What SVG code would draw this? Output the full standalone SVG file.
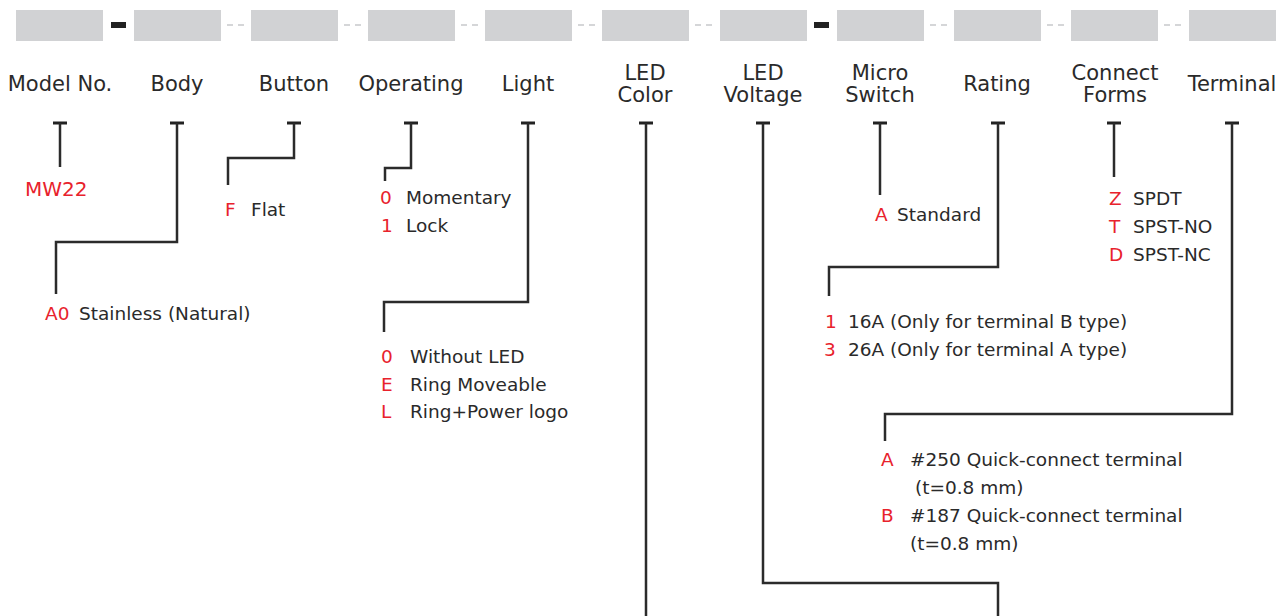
<svg xmlns="http://www.w3.org/2000/svg" width="1282" height="616" viewBox="0 0 1282 616">
<style>
.box{fill:#d1d2d4}
.sep{stroke:#c8c9cb;stroke-width:1.5;stroke-dasharray:6 5}
.dash{fill:#222}
.lbl{font-family:"DejaVu Sans","Liberation Sans",sans-serif;font-size:21px;fill:#2a2a2a;text-anchor:middle}
.it{font-family:"DejaVu Sans","Liberation Sans",sans-serif;font-size:18.5px;fill:#2a2a2a}
.code{font-family:"DejaVu Sans","Liberation Sans",sans-serif;font-size:18.5px;fill:#e8222c}
.wire{fill:none;stroke:#2b2b2b;stroke-width:2.5}
.cap{fill:#222}
</style>
<g id="header">
<rect class="box" x="16" y="10" width="87" height="31"/>
<rect class="box" x="134" y="10" width="87" height="31"/>
<rect class="box" x="251" y="10" width="87" height="31"/>
<rect class="box" x="368" y="10" width="87" height="31"/>
<rect class="box" x="485" y="10" width="87" height="31"/>
<rect class="box" x="602" y="10" width="87" height="31"/>
<rect class="box" x="720" y="10" width="87" height="31"/>
<rect class="box" x="837" y="10" width="87" height="31"/>
<rect class="box" x="954" y="10" width="87" height="31"/>
<rect class="box" x="1071" y="10" width="87" height="31"/>
<rect class="box" x="1189" y="10" width="87" height="31"/>
<rect class="dash" x="111" y="22" width="15" height="6"/>
<rect class="dash" x="814" y="22" width="15" height="6"/>
<line class="sep" x1="227" y1="25" x2="244" y2="25"/>
<line class="sep" x1="344" y1="25" x2="361" y2="25"/>
<line class="sep" x1="461" y1="25" x2="478" y2="25"/>
<line class="sep" x1="578" y1="25" x2="595" y2="25"/>
<line class="sep" x1="695" y1="25" x2="712" y2="25"/>
<line class="sep" x1="930" y1="25" x2="947" y2="25"/>
<line class="sep" x1="1047" y1="25" x2="1064" y2="25"/>
<line class="sep" x1="1164" y1="25" x2="1181" y2="25"/>
</g>
<g id="labels">
<text class="lbl" x="60" y="91">Model No.</text>
<text class="lbl" x="177" y="91">Body</text>
<text class="lbl" x="294" y="91">Button</text>
<text class="lbl" x="411" y="91">Operating</text>
<text class="lbl" x="528" y="91">Light</text>
<text class="lbl" x="645" y="80">LED</text>
<text class="lbl" x="645" y="102">Color</text>
<text class="lbl" x="763" y="80">LED</text>
<text class="lbl" x="763" y="102">Voltage</text>
<text class="lbl" x="880" y="80">Micro</text>
<text class="lbl" x="880" y="102">Switch</text>
<text class="lbl" x="997" y="91">Rating</text>
<text class="lbl" x="1115" y="80">Connect</text>
<text class="lbl" x="1115" y="102">Forms</text>
<text class="lbl" x="1232" y="91">Terminal</text>
</g>
<g id="connectors">
<rect class="cap" x="53" y="121.5" width="14" height="3"/>
<rect class="cap" x="170" y="121.5" width="14" height="3"/>
<rect class="cap" x="287" y="121.5" width="14" height="3"/>
<rect class="cap" x="404" y="121.5" width="14" height="3"/>
<rect class="cap" x="521" y="121.5" width="14" height="3"/>
<rect class="cap" x="639" y="121.5" width="14" height="3"/>
<rect class="cap" x="756" y="121.5" width="14" height="3"/>
<rect class="cap" x="873" y="121.5" width="14" height="3"/>
<rect class="cap" x="991" y="121.5" width="14" height="3"/>
<rect class="cap" x="1107" y="121.5" width="14" height="3"/>
<rect class="cap" x="1225" y="121.5" width="14" height="3"/>
<path class="wire" d="M60 123 V167"/>
<path class="wire" d="M177 123 V242 H56 V294"/>
<path class="wire" d="M294 123 V158 H228 V185"/>
<path class="wire" d="M411 123 V168 H385 V181"/>
<path class="wire" d="M528 123 V302 H384 V332"/>
<path class="wire" d="M646 123 V616"/>
<path class="wire" d="M763 123 V583 H998 V616"/>
<path class="wire" d="M880 123 V195"/>
<path class="wire" d="M998 123 V267 H829 V296"/>
<path class="wire" d="M1114 123 V177"/>
<path class="wire" d="M1232 123 V414 H885 V441"/>
</g>
<g id="model">
<text class="code" x="25" y="196" style="font-size:20px">MW22</text>
</g>
<g id="body">
<text class="code" x="45" y="320">A0</text>
<text class="it" x="79" y="320">Stainless (Natural)</text>
</g>
<g id="button">
<text class="code" x="225" y="216">F</text>
<text class="it" x="251" y="216">Flat</text>
</g>
<g id="operating">
<text class="code" x="380" y="204">0</text>
<text class="it" x="406" y="204">Momentary</text>
<text class="code" x="381" y="232">1</text>
<text class="it" x="406" y="232">Lock</text>
</g>
<g id="light">
<text class="code" x="381" y="363">0</text>
<text class="it" x="410" y="363">Without LED</text>
<text class="code" x="381" y="391">E</text>
<text class="it" x="410" y="391">Ring Moveable</text>
<text class="code" x="381" y="418">L</text>
<text class="it" x="410" y="418">Ring+Power logo</text>
</g>
<g id="micro">
<text class="code" x="875" y="221">A</text>
<text class="it" x="897" y="221">Standard</text>
</g>
<g id="rating">
<text class="code" x="825" y="328">1</text>
<text class="it" x="848" y="328">16A (Only for terminal B type)</text>
<text class="code" x="824" y="356">3</text>
<text class="it" x="848" y="356">26A (Only for terminal A type)</text>
</g>
<g id="forms">
<text class="code" x="1109" y="205">Z</text>
<text class="it" x="1133" y="205">SPDT</text>
<text class="code" x="1109" y="233">T</text>
<text class="it" x="1133" y="233">SPST-NO</text>
<text class="code" x="1109" y="261">D</text>
<text class="it" x="1133" y="261">SPST-NC</text>
</g>
<g id="terminal">
<text class="code" x="881" y="466">A</text>
<text class="it" x="910" y="466">#250 Quick-connect terminal</text>
<text class="it" x="915" y="494">(t=0.8 mm)</text>
<text class="code" x="881" y="522">B</text>
<text class="it" x="910" y="522">#187 Quick-connect terminal</text>
<text class="it" x="910" y="550">(t=0.8 mm)</text>
</g>
</svg>
